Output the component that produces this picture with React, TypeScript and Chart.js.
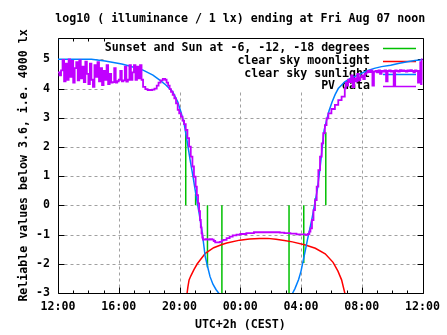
import React, { useEffect, useRef } from "react";
import { Chart, registerables } from "chart.js";

Chart.register(...registerables);

// x values are hours after 12:00 (UTC+2h)
const xTickHours = [0, 4, 8, 12, 16, 20, 24];
const xTickLabels = ["12:00", "16:00", "20:00", "00:00", "04:00", "08:00", "12:00"];
const yTickValues = [-3, -2, -1, 0, 1, 2, 3, 4, 5];

const titleText = "log10 ( illuminance / 1 lx) ending at Fri Aug 07 noon";
const xAxisTitle = "UTC+2h (CEST)";
const yAxisTitle = "Reliable values below 3.6, i.e. 4000 lx";
const seriesNames = [
  "Sunset and Sun at -6, -12, -18 degrees",
  "clear sky moonlight",
  "clear sky sunlight",
  "PV data",
];
const seriesColors = ["#00c000", "#ff0000", "#0080ff", "#c000ff"];

// sunset / sun at -6, -12, -18 degrees (impulses from 0)
const eventTimes = [8.41, 9.06, 9.84, 10.79, 15.21, 16.18, 16.94, 17.63];
const eventValues = [2.58, 0.4, -2.13, -3.6, -3.6, -1.97, 0.25, 2.5];

const moonData: [number, number][] = [
  [8.45, -3.2], [8.55, -2.8], [8.63, -2.55], [8.74, -2.42], [8.95, -2.2],
  [9.17, -2.0], [9.7, -1.64], [10.25, -1.45], [10.8, -1.34], [11.11, -1.29],
  [11.97, -1.19], [12.6, -1.15], [13.27, -1.13], [13.8, -1.13], [14.35, -1.16],
  [14.9, -1.2], [15.43, -1.25], [16.29, -1.36], [16.94, -1.47], [17.59, -1.66],
  [18.11, -1.95], [18.43, -2.25], [18.67, -2.55], [18.88, -3.0], [18.95, -3.2],
];

const sunData: [number, number | null][] = [
  [0, 5.0], [1.0, 5.0], [2.2, 5.0], [3.1, 4.94], [4.2, 4.84], [4.7, 4.77],
  [5.6, 4.63], [6.25, 4.46], [6.7, 4.29], [7.1, 4.12], [7.55, 3.89], [7.88, 3.55],
  [8.09, 3.21], [8.3, 2.81], [8.5, 2.2], [8.7, 1.55], [8.9, 0.95], [9.1, 0.3],
  [9.3, -0.3], [9.5, -0.95], [9.69, -1.75], [9.85, -2.1], [10.01, -2.44],
  [10.2, -2.7], [10.4, -2.88], [10.6, -3.02], [10.8, -3.25], [13.0, null],
  [15.2, -3.25], [15.45, -3.0], [15.6, -2.85], [15.84, -2.54], [16.0, -2.25],
  [16.16, -1.85], [16.3, -1.5], [16.42, -1.18], [16.58, -0.8], [16.74, -0.4],
  [16.9, 0.05], [17.07, 0.53], [17.26, 1.32], [17.45, 2.24], [17.52, 2.58],
  [17.7, 2.95], [17.85, 3.25], [18.05, 3.55], [18.25, 3.8], [18.45, 4.0],
  [18.88, 4.23], [19.3, 4.36], [19.74, 4.46], [20.3, 4.6], [20.82, 4.69],
  [21.3, 4.75], [21.9, 4.8], [22.4, 4.86], [23.0, 4.92], [23.5, 4.96],
  [23.85, 4.98], [24.0, 5.0],
];

const pvData: [number, number][] = [
  [0.0, 4.55], [0.1, 4.45], [0.2, 4.62], [0.3, 4.98], [0.4, 4.25], [0.5, 4.85],
  [0.6, 4.3], [0.7, 5.0], [0.8, 4.4], [0.9, 4.95], [1.0, 4.2], [1.1, 4.7],
  [1.2, 4.9], [1.3, 4.28], [1.4, 4.96], [1.5, 4.35], [1.6, 4.75], [1.7, 4.22],
  [1.8, 4.92], [1.9, 4.5], [2.0, 4.15], [2.1, 4.85], [2.2, 4.3], [2.3, 4.06],
  [2.4, 4.8], [2.5, 4.4], [2.6, 4.9], [2.7, 4.25], [2.8, 4.7], [2.9, 4.12],
  [3.0, 4.6], [3.1, 4.3], [3.2, 4.8], [3.3, 4.15], [3.4, 4.5], [3.5, 4.2],
  [3.6, 4.22], [3.7, 4.7], [3.8, 4.2], [3.9, 4.25], [4.0, 4.3], [4.1, 4.6],
  [4.2, 4.25], [4.3, 4.28], [4.4, 4.75], [4.5, 4.24], [4.6, 4.3], [4.7, 4.8],
  [4.8, 4.3], [4.9, 4.55], [5.0, 4.8], [5.1, 4.3], [5.2, 4.75], [5.3, 4.35],
  [5.4, 4.8], [5.5, 4.3],
  [5.6, 4.06], [5.75, 3.98], [5.9, 3.95], [6.05, 3.95], [6.2, 3.96], [6.35, 4.0],
  [6.5, 4.1], [6.62, 4.2], [6.75, 4.28], [6.9, 4.33], [7.05, 4.3], [7.15, 4.2],
  [7.25, 4.1], [7.35, 3.98], [7.44, 3.89], [7.55, 3.78], [7.66, 3.66], [7.77, 3.49],
  [7.88, 3.27], [7.98, 3.15], [8.09, 3.04], [8.2, 2.9], [8.3, 2.78], [8.41, 2.58],
  [8.52, 2.3], [8.63, 2.01], [8.74, 1.67], [8.85, 1.33], [8.95, 0.98], [9.06, 0.64],
  [9.14, 0.35], [9.22, 0.07], [9.29, -0.2], [9.35, -0.5], [9.4, -0.75], [9.45, -0.96],
  [9.5, -1.1], [9.54, -1.17], [9.7, -1.16], [9.85, -1.17], [10.0, -1.16],
  [10.15, -1.17], [10.25, -1.22], [10.35, -1.27], [10.5, -1.27], [10.65, -1.25],
  [10.78, -1.2], [10.9, -1.18], [11.1, -1.12], [11.3, -1.07], [11.5, -1.03],
  [11.75, -1.0], [12.0, -0.98], [12.4, -0.95], [12.9, -0.92], [13.5, -0.92],
  [14.1, -0.92], [14.6, -0.93], [14.9, -0.95], [15.3, -0.97], [15.7, -0.99],
  [16.1, -0.99], [16.3, -1.01], [16.45, -0.98], [16.55, -0.9], [16.62, -0.79],
  [16.72, -0.5], [16.82, -0.16], [16.92, 0.18], [17.03, 0.64], [17.14, 1.21],
  [17.25, 1.67], [17.36, 2.12], [17.46, 2.47], [17.57, 2.75], [17.68, 2.98],
  [17.8, 3.15], [18.0, 3.3], [18.23, 3.44], [18.45, 3.6], [18.67, 3.72],
  [18.88, 4.01], [18.95, 4.2], [19.0, 4.1], [19.1, 4.3], [19.2, 4.22], [19.3, 4.45],
  [19.4, 4.05], [19.5, 4.35], [19.6, 4.25], [19.7, 4.5], [19.8, 4.28], [19.9, 4.38],
  [20.0, 4.45], [20.1, 4.32], [20.2, 4.5], [20.3, 4.55], [20.4, 4.6], [20.5, 4.56],
  [20.6, 4.62], [20.7, 4.1], [20.8, 4.58], [20.9, 4.6], [21.0, 4.55], [21.1, 4.62],
  [21.2, 4.5], [21.3, 4.6], [21.4, 4.58], [21.5, 4.62], [21.6, 4.25], [21.7, 4.6],
  [21.8, 4.62], [21.9, 4.58], [22.0, 4.6], [22.1, 4.1], [22.2, 4.62], [22.3, 4.6],
  [22.4, 4.58], [22.5, 4.63], [22.6, 4.6], [22.7, 4.62], [22.8, 4.6], [22.9, 4.58],
  [23.0, 4.62], [23.1, 4.6], [23.2, 4.63], [23.3, 4.6], [23.4, 4.55], [23.5, 4.62],
  [23.6, 4.6], [23.7, 4.2], [23.8, 4.6], [23.85, 4.9], [23.9, 4.15], [23.95, 5.0],
  [24.0, 4.3],
];

const FONT_FAMILY = "'DejaVu Sans Mono', 'Liberation Mono', monospace";
const FONT_SIZE = 11.6;
const CSS_FONT = `bold ${FONT_SIZE}px ${FONT_FAMILY}`;

const framePlugin = {
  id: "gnuFrame",
  beforeDatasetsDraw(chart: any) {
    const { ctx, chartArea: a, scales } = chart;
    const xs = scales.x;
    const ys = scales.y;
    const L = Math.round(a.left) + 0.5;
    const R = Math.round(a.right) + 0.5;
    const T = Math.round(a.top) + 0.5;
    const B = Math.round(a.bottom) + 0.5;
    const line = (x1: number, y1: number, x2: number, y2: number) => {
      ctx.beginPath();
      ctx.moveTo(x1, y1);
      ctx.lineTo(x2, y2);
      ctx.stroke();
    };
    ctx.save();
    // grid
    ctx.strokeStyle = "#a0a0a0";
    ctx.lineWidth = 1;
    ctx.setLineDash([3, 3]);
    for (const h of xTickHours) {
      if (h <= 0 || h >= 24) continue;
      const px = Math.round(xs.getPixelForValue(h)) + 0.5;
      line(px, T, px, B);
    }
    for (const v of yTickValues) {
      if (v <= -3) continue;
      const py = Math.round(ys.getPixelForValue(v)) + 0.5;
      line(L, py, R, py);
    }
    ctx.setLineDash([]);
    // border and ticks
    ctx.strokeStyle = "#000";
    line(L, T, R, T);
    line(L, B, R, B);
    line(L, T, L, B);
    line(R, T, R, B);
    for (let h = 0; h <= 24; h++) {
      const len = h % 4 === 0 ? 6 : 3;
      const px = Math.round(xs.getPixelForValue(h)) + 0.5;
      line(px, B, px, B - len);
      line(px, T, px, T + len);
    }
    for (const v of yTickValues) {
      const py = Math.round(ys.getPixelForValue(v)) + 0.5;
      line(L, py, L + 6, py);
      line(R, py, R - 6, py);
    }
    // opaque key box
    ctx.fillStyle = "#ffffff";
    ctx.fillRect(a.left + 47, a.top + 1, a.right - a.left - 52, 53);
    // key entries
    ctx.font = CSS_FONT;
    ctx.textAlign = "right";
    ctx.textBaseline = "middle";
    const textRight = a.left + 312;
    const sx1 = a.left + 325;
    const sx2 = a.left + 358;
    seriesNames.forEach((name, i) => {
      const yy = a.top + 10 + i * 12.8;
      ctx.fillStyle = "#000";
      ctx.fillText(name, textRight, yy);
      ctx.strokeStyle = seriesColors[i];
      ctx.lineWidth = 1.5;
      const ly = Math.round(yy) + 0.5;
      line(sx1, ly, sx2, ly);
    });
    // title
    ctx.fillStyle = "#000";
    ctx.textAlign = "center";
    ctx.fillText(titleText, (a.left + a.right) / 2, 19);
    ctx.restore();
  },
};

export default function App() {
  const canvasRef = useRef<HTMLCanvasElement | null>(null);

  useEffect(() => {
    if (!canvasRef.current) return;
    const impulses: { x: number; y: number | null }[] = [];
    eventTimes.forEach((t, i) => {
      impulses.push({ x: t, y: 0 }, { x: t, y: eventValues[i] }, { x: t, y: null });
    });
    const font = { family: FONT_FAMILY, size: FONT_SIZE, weight: "bold" as const };
    const chart = new Chart(canvasRef.current, {
      type: "line",
      data: {
        datasets: [
          {
            label: seriesNames[0],
            data: impulses,
            borderColor: seriesColors[0],
            borderWidth: 1.5,
            pointRadius: 0,
            spanGaps: false,
            order: 3,
          },
          {
            label: seriesNames[1],
            data: moonData.map(([x, y]) => ({ x, y })),
            borderColor: seriesColors[1],
            borderWidth: 1.5,
            pointRadius: 0,
            order: 2,
          },
          {
            label: seriesNames[2],
            data: sunData.map(([x, y]) => ({ x, y })),
            borderColor: seriesColors[2],
            borderWidth: 1.5,
            pointRadius: 0,
            spanGaps: false,
            order: 1,
          },
          {
            label: seriesNames[3],
            data: pvData.map(([x, y]) => ({ x, y })),
            borderColor: seriesColors[3],
            borderWidth: 1.8,
            pointRadius: 0,
            stepped: true,
            order: 0,
          },
        ],
      },
      options: {
        animation: false,
        responsive: true,
        maintainAspectRatio: false,
        events: [],
        layout: { padding: { left: 0, top: 38, right: 18, bottom: 0 } },
        plugins: {
          legend: { display: false },
          title: { display: false },
          tooltip: { enabled: false },
        },
        scales: {
          x: {
            type: "linear",
            min: 0,
            max: 24,
            grid: { display: false, drawTicks: false },
            border: { display: false },
            afterBuildTicks: (s: any) => {
              s.ticks = xTickHours.map((v) => ({ value: v }));
            },
            afterFit: (s: any) => {
              s.height = 42;
            },
            ticks: {
              padding: 7,
              maxRotation: 0,
              autoSkip: false,
              color: "#000",
              font,
              callback: (v: any) => xTickLabels[xTickHours.indexOf(Number(v))],
            },
            title: {
              display: true,
              text: xAxisTitle,
              color: "#000",
              font,
              padding: { top: 0, bottom: 3 },
            },
          },
          y: {
            type: "linear",
            min: -3,
            max: 5.73,
            grid: { display: false, drawTicks: false },
            border: { display: false },
            afterBuildTicks: (s: any) => {
              s.ticks = yTickValues.map((v) => ({ value: v }));
            },
            afterFit: (s: any) => {
              s.width = 58;
            },
            ticks: {
              padding: 8,
              color: "#000",
              font,
              callback: (v: any) => String(v),
            },
            title: {
              display: true,
              text: yAxisTitle,
              color: "#000",
              font,
              padding: { top: 17, bottom: 0 },
            },
          },
        },
      },
      plugins: [framePlugin],
    } as any);
    return () => chart.destroy();
  }, []);

  return (
    <div
      style={{
        position: "fixed",
        left: 0,
        top: 0,
        width: 447,
        height: 335,
        background: "#fff",
      }}
    >
      <canvas ref={canvasRef} />
    </div>
  );
}
